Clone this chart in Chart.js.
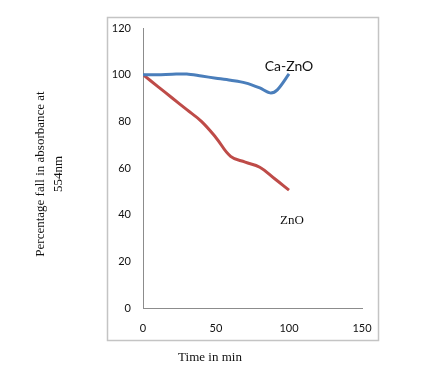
<!DOCTYPE html>
<html>
<head>
<meta charset="utf-8">
<script src="https://cdn.jsdelivr.net/npm/chart.js@4/dist/chart.umd.min.js"></script>
<style>
html,body{margin:0;padding:0;background:#fff;}
#wrap{width:442px;height:383px;position:relative;}
</style>
</head>
<body>
<div id="wrap"><canvas id="c" width="442" height="383"></canvas></div>
<script>
const caTime   = [0, 10, 20, 30, 40, 50, 60, 70, 80, 87, 92, 100];
const caValues = [100, 100, 100.2, 100.3, 99.4, 98.5, 97.6, 96.5, 94.3, 92.2, 93.5, 100.3];
const znoTime   = [0, 10, 20, 30, 40, 50, 60, 70, 80, 90, 100];
const znoValues = [100, 95, 90, 85, 80, 73, 65, 62.5, 60.3, 55.5, 50.5];
const xTicks = [0, 50, 100, 150];
const yTicks = [0, 20, 40, 60, 80, 100, 120];
const seriesNames = ['Ca-ZnO', 'ZnO'];
const labelPos = [{x: 100, y: 103.4}, {x: 102, y: 37.4}];
const yTitle = ['Percentage fall in absorbance at', '554nm'];
const xTitle = 'Time in min';

const toPts = (t, v) => t.map((x, i) => ({x: x, y: v[i]}));

const decor = {
  id: 'decor',
  beforeDraw(chart) {
    const {ctx, chartArea: a} = chart;
    ctx.save();
    ctx.strokeStyle = '#c4c4c4';
    ctx.lineWidth = 1.5;
    ctx.strokeRect(a.left - 35.5, a.top - 10.5, (a.right + 17) - (a.left - 35), (a.bottom + 33) - (a.top - 10));
    ctx.restore();
  },
  afterDraw(chart) {
    const {ctx, chartArea: a, scales} = chart;
    ctx.save();
    ctx.fillStyle = '#111';
    ctx.textAlign = 'center';
    ctx.textBaseline = 'middle';
    ctx.font = '14px Lato, "Liberation Sans", sans-serif';
    ctx.fillText(seriesNames[0], scales.x.getPixelForValue(labelPos[0].x), scales.y.getPixelForValue(labelPos[0].y));
    ctx.font = '13px "Liberation Serif", serif';
    ctx.fillText(seriesNames[1], scales.x.getPixelForValue(labelPos[1].x), scales.y.getPixelForValue(labelPos[1].y));
    ctx.font = '13px "Liberation Serif", serif';
    ctx.fillText(xTitle, a.left + 67, a.bottom + 50);
    ctx.translate(a.left - 93, a.top + 146);
    ctx.rotate(-Math.PI / 2);
    ctx.fillText(yTitle[0], 0, -9);
    ctx.fillText(yTitle[1], 0, 9);
    ctx.restore();
  }
};

new Chart(document.getElementById('c'), {
  type: 'line',
  data: {
    datasets: [
      {label: seriesNames[0], data: toPts(caTime, caValues), borderColor: '#4a7ebb', borderWidth: 3, pointRadius: 0, tension: 0.3, fill: false},
      {label: seriesNames[1], data: toPts(znoTime, znoValues), borderColor: '#be4b48', borderWidth: 3, pointRadius: 0, tension: 0.4, fill: false}
    ]
  },
  options: {
    responsive: false,
    animation: false,
    layout: {padding: {left: 0, top: 28, right: 80, bottom: 0}},
    plugins: {legend: {display: false}, tooltip: {enabled: false}},
    scales: {
      x: {
        type: 'linear', min: 0, max: 150,
        afterBuildTicks: s => { s.ticks = xTicks.map(v => ({value: v})); },
        afterFit: s => { s.height = 75; },
        grid: {display: false, drawTicks: false},
        border: {display: true, color: '#8c8c8c', width: 1},
        ticks: {padding: 14, color: '#111', font: {family: 'Lato, "Liberation Sans", sans-serif', size: 11}}
      },
      y: {
        type: 'linear', min: 0, max: 120,
        afterBuildTicks: s => { s.ticks = yTicks.map(v => ({value: v})); },
        afterFit: s => { s.width = 143; },
        grid: {display: false, drawTicks: false},
        border: {display: true, color: '#8c8c8c', width: 1},
        ticks: {padding: 12, color: '#111', font: {family: 'Lato, "Liberation Sans", sans-serif', size: 11}}
      }
    }
  },
  plugins: [decor]
});
</script>
</body>
</html>
